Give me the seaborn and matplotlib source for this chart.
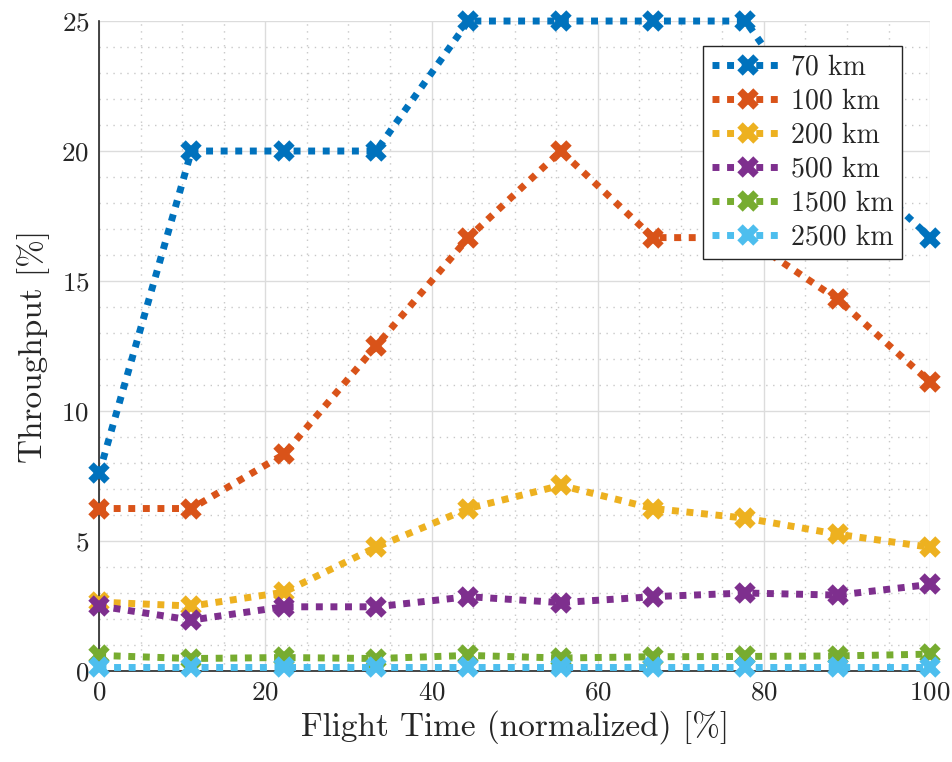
import numpy as np
import pandas as pd
import matplotlib
matplotlib.use('Agg')
import matplotlib.pyplot as plt
import seaborn as sns
from matplotlib.ticker import MultipleLocator

flight_time = [0, 11.11, 22.22, 33.33, 44.44, 55.56, 66.67, 77.78, 88.89, 100]

km70 = [7.6, 20, 20, 20, 25, 25, 25, 25, 20, 16.67]
km100 = [6.25, 6.25, 8.33, 12.5, 16.67, 20, 16.67, 16.67, 14.29, 11.11]
km200 = [2.65, 2.5, 3.03, 4.76, 6.25, 7.14, 6.25, 5.88, 5.26, 4.76]
km500 = [2.5, 1.96, 2.47, 2.47, 2.86, 2.63, 2.86, 3.0, 2.92, 3.33]
km1500 = [0.6, 0.48, 0.52, 0.48, 0.6, 0.5, 0.55, 0.56, 0.58, 0.65]
km2500 = [0.17, 0.17, 0.17, 0.17, 0.17, 0.17, 0.17, 0.17, 0.17, 0.17]

labels = ['70 km', '100 km', '200 km', '500 km', '1500 km', '2500 km']
colors = ['#0072BD', '#D95319', '#EDB120', '#7E2F8E', '#77AC30', '#4DBEEE']
series = [km70, km100, km200, km500, km1500, km2500]

sns.set_style('white')
plt.rcParams['font.family'] = ['cmr10', 'DejaVu Serif']
plt.rcParams['mathtext.fontset'] = 'cm'
plt.rcParams['axes.formatter.use_mathtext'] = True

fig = plt.figure(figsize=(9.53, 7.62), dpi=100)
ax = fig.add_axes([0.104, 0.1194, 0.872, 0.853])

for lab, col, vals in zip(labels, colors, series):
    sns.lineplot(x=flight_time, y=vals, ax=ax, color=col, label=lab,
                 linestyle=(0, (1, 1.1)), linewidth=5, marker='x',
                 markersize=12, markeredgewidth=5.5, markeredgecolor=col,
                 clip_on=False, zorder=3)

ax.set_xlim(0, 100)
ax.set_ylim(0, 25)
ax.xaxis.set_major_locator(MultipleLocator(20))
ax.xaxis.set_minor_locator(MultipleLocator(5))
ax.yaxis.set_major_locator(MultipleLocator(5))
ax.yaxis.set_minor_locator(MultipleLocator(1))
ax.grid(which='major', color='#dcdcdc', linewidth=1, linestyle='-')
ax.grid(which='minor', color='#c8c8c8', linewidth=1, linestyle=(0, (1, 4)))
ax.set_axisbelow(True)

for s in ['top', 'right']:
    ax.spines[s].set_visible(False)
for s in ['left', 'bottom']:
    ax.spines[s].set_color('#262626')
    ax.spines[s].set_linewidth(1.2)

ax.tick_params(which='major', direction='in', length=6, width=1, colors='#262626',
               labelsize=19.5, pad=7, labelcolor='#262626')
ax.tick_params(which='minor', length=0)

ax.set_xlabel('Flight Time (normalized) [%]', fontsize=24, color='#262626', labelpad=4)
ax.set_ylabel('Throughput [%]', fontsize=24, color='#262626', labelpad=8)

leg = ax.legend(loc='upper right', bbox_to_anchor=(0.966, 0.962), borderaxespad=0,
                fontsize=20, handlelength=2.6, fancybox=False, framealpha=1,
                edgecolor='#262626', borderpad=0.3, labelspacing=0.28, handletextpad=0.25)
leg.get_frame().set_linewidth(1)
leg.set_zorder(5)

fig.savefig('out.png', dpi=100)
